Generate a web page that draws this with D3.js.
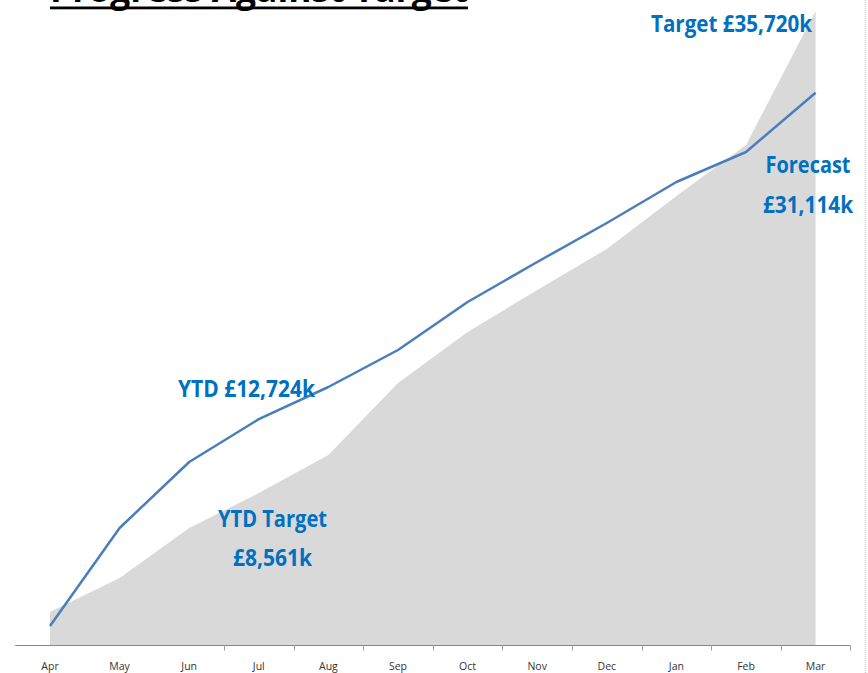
<!DOCTYPE html>
<html>
<head>
<meta charset="utf-8">
<script src="https://cdn.jsdelivr.net/npm/d3@7"></script>
<style>
  html, body { margin: 0; padding: 0; background: #fff; }
  svg { display: block; }
</style>
</head>
<body>
<svg id="chart" width="868" height="673"></svg>
<script>
const months = ["Apr","May","Jun","Jul","Aug","Sep","Oct","Nov","Dec","Jan","Feb","Mar"];
const targetCum = [1859, 3775, 6592, 8561, 10704, 14761, 17634, 20000, 22310, 25296, 28169, 35720];
const actualForecast = [1070, 6592, 10310, 12724, 14535, 16620, 19324, 21577, 23775, 26085, 27775, 31114];
const titleText = "Progress Against Target";
const labels = [
  {lines: ["Target £35,720k"], cx: 731.5, baseline: 32, widths: [161]},
  {lines: ["Forecast", "£31,114k"], cx: 808, baseline: 173, lh: 40, widths: [85, 90]},
  {lines: ["YTD £12,724k"], cx: 246.5, baseline: 397, widths: [137]},
  {lines: ["YTD Target", "£8,561k"], cx: 272.5, baseline: 527, lh: 39, widths: [109, 79]}
];

const svg = d3.select("#chart");
const x = d3.scalePoint().domain(months).range([50, 815.6]);
const step = x.step();
const y = d3.scaleLinear().domain([0, 36000]).range([645, 6]);

// right border
svg.append("line").attr("x1", 865.5).attr("x2", 865.5).attr("y1", 0).attr("y2", 673)
  .attr("stroke", "#cfcfcf").attr("stroke-width", 1.5).attr("stroke-dasharray", "1,1");

// title (mostly clipped at top, as in the reference)
svg.append("text").text(titleText)
  .attr("x", 50).attr("y", 2)
  .attr("font-family", "Open Sans, sans-serif").attr("font-weight", 700)
  .attr("font-size", 36).attr("fill", "#000")
  .attr("textLength", 418).attr("lengthAdjust", "spacingAndGlyphs");
svg.append("rect").attr("x", 50).attr("y", 6.5).attr("width", 418).attr("height", 2.8).attr("fill", "#000");

// target area
const area = d3.area()
  .x((d, i) => x(months[i]))
  .y0(y(0))
  .y1(d => y(d));
svg.append("path").datum(targetCum).attr("d", area).attr("fill", "#d9d9d9");

// axis
const axisG = svg.append("g").attr("transform", `translate(0,${y(0)})`);
axisG.append("line").attr("x1", x(months[0]) - step / 2).attr("x2", x(months[11]) + step / 2)
  .attr("y1", 0.5).attr("y2", 0.5).attr("stroke", "#868686").attr("stroke-width", 1);
const tickIdx = d3.range(3, 13);
axisG.selectAll(".tk").data(tickIdx).join("line")
  .attr("x1", i => Math.round(x(months[0]) - step / 2 + i * step) + 0.5)
  .attr("x2", i => Math.round(x(months[0]) - step / 2 + i * step) + 0.5)
  .attr("y1", 0.5).attr("y2", 5.5).attr("stroke", "#a0a0a0");
axisG.selectAll(".lbl").data(months).join("text")
  .attr("x", d => x(d)).attr("y", 25)
  .attr("text-anchor", "middle")
  .attr("font-family", "Open Sans, sans-serif").attr("font-size", 10.5)
  .attr("fill", "#333")
  .text(d => d);

// forecast line
const line = d3.line().x((d, i) => x(months[i])).y(d => y(d));
svg.append("path").datum(actualForecast).attr("d", line)
  .attr("fill", "none").attr("stroke", "#4a7ebb").attr("stroke-width", 2.5)
  .attr("stroke-linejoin", "round");

// labels
labels.forEach(l => {
  l.lines.forEach((t, j) => {
    svg.append("text").text(t)
      .attr("x", l.cx - l.widths[j] / 2).attr("y", l.baseline + j * (l.lh || 0))
      .attr("font-family", "Open Sans, sans-serif").attr("font-weight", 700)
      .attr("font-size", 24).attr("fill", "#0070c0")
      .attr("textLength", l.widths[j]).attr("lengthAdjust", "spacingAndGlyphs");
  });
});
</script>
</body>
</html>
